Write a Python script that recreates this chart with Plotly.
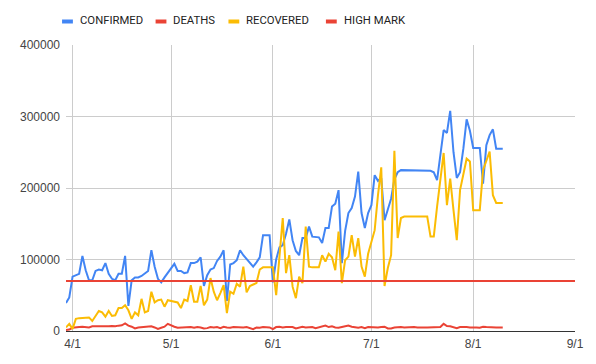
import pandas as pd
import plotly.graph_objects as go

# ---------------- data ----------------
start_date = "2020-03-30"

confirmed = [
    39000, 47000, 76000, 78000, 80000, 105000, 85000, 71000, 71000, 84000, 86000, 85000,
    95000, 80000, 73000, 71000, 80000, 80000, 105000, 35000, 71000, 75000, 75000, 77000,
    80000, 84000, 113000, 90000, 73000, 68000, 75000, 81000, 88000, 94000, 84000, 84000,
    81000, 82000, 95000, 95000, 97000, 103000, 63000, 78000, 86000, 88000, 98000, 104000,
    113000, 42000, 93000, 95000, 99000, 113000, 106000, 101000, 95000, 90000, 96000, 103000,
    134000, 134000, 134000, 68000, 100000, 117000, 120000, 136000, 156000, 127000, 112000, 106000,
    130000, 130000, 146000, 132000, 131000, 131000, 123000, 144000, 144000, 174000, 178000, 197000,
    95000, 140000, 165000, 172000, 188000, 223000, 165000, 144000, 165000, 176000, 218000, 210000,
    214000, 155000, 170000, 185000, 212000, 222000, 225000, 225000, 225000, 225000, 225000, 225000,
    225000, 225000, 225000, 224000, 222000, 211000, 246000, 281000, 277000, 308000, 250000, 214000,
    222000, 255000, 296000, 280000, 256000, 256000, 256000, 206000, 260000, 274000, 282000, 255000,
    255000, 255000,
]

deaths = [
    1500, 2000, 4500, 5500, 5500, 6000, 6000, 5000, 6500, 6500, 6000, 5500,
    6000, 6500, 7000, 6500, 7500, 8000, 10500, 7500, 6000, 3500, 5000, 5500,
    6000, 6000, 6500, 5000, 3000, 4500, 6000, 10000, 7500, 6000, 4500, 5000,
    5500, 5000, 5500, 4500, 5500, 5000, 3500, 4000, 5500, 5000, 5500, 4000,
    6000, 5000, 4500, 5500, 5000, 4500, 5000, 5500, 3500, 2500, 5000, 4500,
    5500, 5000, 5000, 2500, 5500, 6000, 5000, 5500, 5000, 5500, 3500, 5000,
    6000, 5000, 5500, 5500, 4000, 5500, 6000, 7500, 5500, 6500, 5000, 4500,
    5500, 6000, 7500, 6000, 5000, 4500, 5500, 4000, 5500, 5000, 5500, 5000,
    5500, 6000, 3500, 3500, 5000, 5500, 5500, 5000, 5500, 5000, 5500, 5000,
    5500, 5000, 5000, 5000, 5500, 6000, 5500, 10000, 7000, 6500, 5000, 4000,
    5500, 6000, 5500, 5000, 5500, 5000, 4500, 6000, 5500, 5000, 5500, 5000,
    5000, 5000,
]

recovered = [
    5000, 10000, 3000, 17000, 18000, 18000, 18000, 19000, 14000, 22000, 28000, 26000,
    20000, 28000, 21000, 22000, 32000, 32000, 36000, 29000, 17000, 26000, 22000, 45000,
    26000, 28000, 55000, 40000, 43000, 44000, 34000, 43000, 42000, 40000, 40000, 32000,
    44000, 42000, 64000, 41000, 41000, 63000, 36000, 44000, 74000, 55000, 43000, 53000,
    64000, 25000, 55000, 52000, 66000, 62000, 90000, 54000, 63000, 65000, 67000, 86000,
    89000, 89000, 89000, 89000, 50000, 100000, 158000, 81000, 106000, 62000, 46000, 76000,
    67000, 146000, 90000, 89000, 89000, 89000, 106000, 97000, 108000, 103000, 85000, 139000,
    67000, 99000, 104000, 134000, 104000, 130000, 90000, 76000, 108000, 125000, 141000, 190000,
    229000, 63000, 88000, 106000, 252000, 130000, 158000, 160000, 160000, 160000, 160000, 160000,
    160000, 160000, 160000, 132000, 132000, 174000, 211000, 249000, 176000, 213000, 169000, 127000,
    197000, 220000, 241000, 237000, 169000, 169000, 169000, 225000, 239000, 251000, 190000, 179000,
    179000, 179000,
]

high_mark_dates = ["2020-03-30", "2020-09-01"]
high_mark_values = [70000, 70000]

series_names = ["CONFIRMED", "DEATHS", "RECOVERED", "HIGH MARK"]
series_colors = ["#4285F4", "#EA4335", "#FBBC04", "#EA4335"]

x_tick_dates = ["2020-04-01", "2020-05-01", "2020-06-01", "2020-07-01", "2020-08-01", "2020-09-01"]
x_tick_labels = ["4/1", "5/1", "6/1", "7/1", "8/1", "9/1"]
y_tick_values = [0, 100000, 200000, 300000, 400000]
y_tick_labels = ["0", "100000", "200000", "300000", "400000"]

assert len(confirmed) == len(deaths) == len(recovered)
dates = pd.date_range(start_date, periods=len(confirmed), freq="D")

# ---------------- figure ----------------
# the page body has an 8px margin, so the figure is sized to fit the window
OFF = 8
W, H = 596 - OFF, 364 - OFF
PLOT_L, PLOT_R, PLOT_T, PLOT_B = 62, 579, 45, 331   # page pixel coords of the plot area
L, T = PLOT_L - OFF, PLOT_T - OFF
R, B = W - (PLOT_R - OFF), H - (PLOT_B - OFF)
plot_w, plot_h = W - L - R, H - T - B

fig = go.Figure()
for name, ys, col in zip(series_names[:3], [confirmed, deaths, recovered], series_colors[:3]):
    fig.add_trace(go.Scatter(x=dates, y=ys, mode="lines", name=name,
                             line=dict(color=col, width=2), showlegend=False))
fig.add_trace(go.Scatter(x=pd.to_datetime(high_mark_dates), y=high_mark_values, mode="lines",
                         name=series_names[3], line=dict(color=series_colors[3], width=2),
                         showlegend=False))

tick_font = dict(family="Liberation Sans, Arial, sans-serif", size=12, color="#444444")

fig.update_layout(
    width=W, height=H,
    margin=dict(l=L, r=R, t=T, b=B, pad=0),
    paper_bgcolor="white", plot_bgcolor="white",
    xaxis=dict(type="date", range=[dates[0], pd.Timestamp(x_tick_dates[-1])],
               tickvals=pd.to_datetime(x_tick_dates), ticktext=x_tick_labels,
               showgrid=True, gridcolor="#cccccc", gridwidth=1,
               showline=True, linecolor="#333333", linewidth=1,
               zeroline=False, ticks="", tickfont=tick_font, ticklabelstandoff=2),
    yaxis=dict(range=[0, 400000], tickvals=y_tick_values, ticktext=y_tick_labels,
               showgrid=True, gridcolor="#cccccc", gridwidth=1,
               zeroline=False, showline=False, ticks="", tickfont=tick_font,
               ticklabelstandoff=5),
)

# ---------------- legend (manual, Google-chart style) ----------------
def px_x(px):
    return (px - PLOT_L) / plot_w

def px_y(py):
    return (PLOT_B - py) / plot_h

legend_swatch_px = [58, 153, 227, 326]
legend_y_px = 21.5
for name, col, sx in zip(series_names, series_colors, legend_swatch_px):
    fig.add_shape(type="line", xref="paper", yref="paper",
                  x0=px_x(sx), x1=px_x(sx + 11), y0=px_y(legend_y_px), y1=px_y(legend_y_px),
                  line=dict(color=col, width=4))
    fig.add_annotation(text=name, xref="paper", yref="paper", x=px_x(sx + 17),
                       y=px_y(legend_y_px - 0.5), xanchor="left", yanchor="middle",
                       showarrow=False, borderpad=0,
                       font=dict(family="Roboto, Liberation Sans, sans-serif",
                                 size=11.3, color="#222222"))

fig.write_html("out.html")
